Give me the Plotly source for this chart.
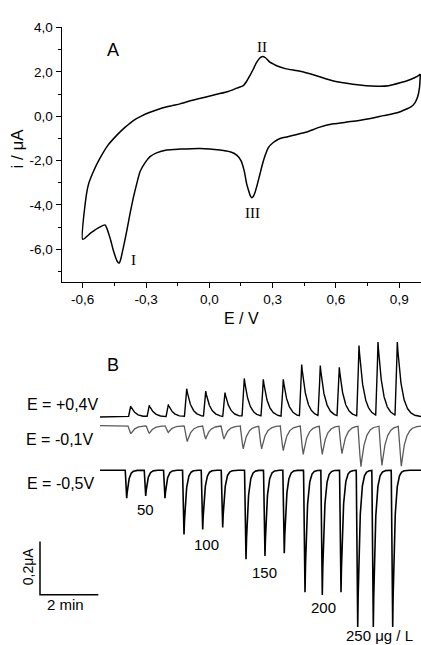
import numpy as np
import plotly.graph_objects as go

W, H = 421, 645

# ---------------- Panel A : cyclic voltammogram ----------------
E_FWD = [-0.600, -0.589, -0.573, -0.545, -0.518, -0.480, -0.439, -0.400, -0.360, -0.320,
         -0.281, -0.230, -0.180, -0.139, -0.080, -0.020, 0.035, 0.090, 0.130, 0.161,
         0.177, 0.193, 0.208, 0.222, 0.238, 0.252, 0.266, 0.285, 0.303, 0.319,
         0.360, 0.430, 0.500, 0.588, 0.680, 0.793, 0.850, 0.904, 0.950, 0.985, 1.000]
I_FWD = [-5.55, -4.00, -3.08, -2.40, -1.89, -1.30, -0.86, -0.50, -0.19, 0.02,
         0.18, 0.35, 0.47, 0.56, 0.72, 0.86, 0.99, 1.12, 1.27, 1.38,
         1.58, 1.85, 2.12, 2.40, 2.62, 2.70, 2.64, 2.45, 2.36, 2.28,
         2.15, 2.03, 1.85, 1.59, 1.45, 1.36, 1.38, 1.51, 1.65, 1.80, 1.90]

E_REV = [1.000, 0.996, 0.988, 0.975, 0.955, 0.935, 0.890, 0.825, 0.750, 0.670,
         0.588, 0.520, 0.462, 0.410, 0.367, 0.335, 0.303, 0.279, 0.265, 0.252,
         0.240, 0.228, 0.216, 0.208, 0.201, 0.194, 0.186, 0.177, 0.165, 0.150,
         0.130, 0.098, 0.050, -0.044, -0.139, -0.202, -0.250, -0.281, -0.305, -0.328,
         -0.345, -0.360, -0.376, -0.391, -0.407, -0.420, -0.427, -0.436, -0.455, -0.470,
         -0.494, -0.520, -0.560, -0.600]
I_REV = [1.90, 1.30, 0.90, 0.62, 0.42, 0.33, 0.16, 0.03, -0.12, -0.24,
         -0.34, -0.50, -0.71, -0.83, -0.93, -1.00, -1.18, -1.42, -1.75, -2.15,
         -2.60, -3.05, -3.45, -3.62, -3.67, -3.58, -3.35, -3.05, -2.45, -2.00,
         -1.75, -1.60, -1.52, -1.45, -1.48, -1.52, -1.65, -1.82, -2.10, -2.49,
         -3.08, -3.67, -4.40, -5.16, -5.90, -6.45, -6.62, -6.55, -6.04, -5.50,
         -4.90, -5.00, -5.25, -5.55]

X_TICKS = [-0.6, -0.3, 0.0, 0.3, 0.6, 0.9]
X_TICK_LABELS = ["-0,6", "-0,3", "0,0", "0,3", "0,6", "0,9"]
Y_TICKS = [4, 2, 0, -2, -4, -6]
Y_TICK_LABELS = ["4,0", "2,0", "0,0", "-2,0", "-4,0", "-6,0"]

# ---------------- Panel B : amperometric responses ----------------
CONC_LABELS = ["50", "100", "150", "200", "250 μg / L"]
# E = +0,4 V  (oxidation peaks): peak times (min) and heights (μA)
T_POS = [1.053, 1.691, 2.343, 2.974, 3.626, 4.288, 4.950, 5.602, 6.288, 6.919,
         7.557, 8.209, 8.885, 9.537, 10.199]
A_POS = [0.041, 0.043, 0.046, 0.105, 0.095, 0.090, 0.143, 0.139, 0.139, 0.194,
         0.189, 0.183, 0.265, 0.276, 0.276]
# E = -0,1 V (reduction dips)
T_MID = [1.063, 1.691, 2.343, 2.995, 3.626, 4.254, 4.916, 5.547, 6.288, 6.974,
         7.626, 8.302, 8.954, 9.674, 10.336]
A_MID = [0.030, 0.029, 0.025, 0.059, 0.049, 0.049, 0.086, 0.086, 0.093, 0.107,
         0.106, 0.104, 0.152, 0.148, 0.150]
# E = -0,5 V (reduction spikes)
T_NEG = [0.916, 1.568, 2.230, 2.882, 3.523, 4.209, 5.009, 5.660, 6.322, 7.033,
         7.626, 8.268, 8.841, 9.376, 10.041]
A_NEG = [0.105, 0.096, 0.105, 0.241, 0.222, 0.214, 0.333, 0.321, 0.311, 0.457,
         0.467, 0.457, 0.587, 0.587, 0.587]

SCALE_T = 2.0    # min
SCALE_I = 0.2    # μA

# ---- layout constants (panel B drawing frame) ----
PX_PER_MIN = 29.15
PX_PER_UA = 270.0
T0_PX = 100.0
OFF_POS = (H - 414.5) / PX_PER_UA
OFF_MID = (H - 423.3) / PX_PER_UA
OFF_NEG = (H - 468.3) / PX_PER_UA
T_END = (W - T0_PX) / PX_PER_MIN


def P(x, y):
    return x / W, 1 - y / H


def transient(t, times, amps, rise, tau, p):
    y = np.zeros_like(t)
    for tp, a in zip(times, amps):
        s = tp - rise
        m1 = (t >= s) & (t < tp)
        y[m1] += a * ((t[m1] - s) / rise) ** p
        m2 = t >= tp
        y[m2] += a * np.exp(-(t[m2] - tp) / tau)
    return y


def grid(times):
    g = np.arange(0, T_END + 0.004, 0.004)
    return np.unique(np.concatenate([g, np.array(times)]))


fig = go.Figure()

# CV curve
fig.add_trace(go.Scatter(x=E_FWD + E_REV, y=I_FWD + I_REV, mode="lines",
                         line=dict(color="black", width=1.5, shape="spline", smoothing=0.6),
                         xaxis="x", yaxis="y", hoverinfo="skip"))

# amperometric traces
tp = grid(T_POS)
fig.add_trace(go.Scatter(x=tp, y=OFF_POS + transient(tp, T_POS, A_POS, 0.08, 0.16, 1.2),
                         mode="lines", line=dict(color="black", width=1.4),
                         xaxis="x2", yaxis="y2", hoverinfo="skip"))
tm = grid(T_MID)
fig.add_trace(go.Scatter(x=tm, y=OFF_MID - transient(tm, T_MID, A_MID, 0.10, 0.14, 0.7),
                         mode="lines", line=dict(color="#5a5a5a", width=1.3),
                         xaxis="x2", yaxis="y2", hoverinfo="skip"))
tn = grid(T_NEG)
fig.add_trace(go.Scatter(x=tn, y=OFF_NEG - transient(tn, T_NEG, A_NEG, 0.05, 0.07, 1.0),
                         mode="lines", line=dict(color="black", width=1.6),
                         xaxis="x2", yaxis="y2", hoverinfo="skip"))

# scale bar
sb_t = (40 - T0_PX) / PX_PER_MIN
sb_i = (H - 594.3) / PX_PER_UA
fig.add_trace(go.Scatter(x=[sb_t, sb_t, sb_t + SCALE_T], y=[sb_i + SCALE_I, sb_i, sb_i],
                         mode="lines", line=dict(color="black", width=1.5),
                         xaxis="x2", yaxis="y2", hoverinfo="skip"))

x0, _ = P(61.7, 0)
_, yb = P(0, 277.7)
_, yt = P(0, 20.7)
sans = "Liberation Sans, Arial, sans-serif"
serif = "Liberation Serif, Times New Roman, serif"

fig.update_layout(
    width=W, height=H, margin=dict(l=0, r=0, t=0, b=0),
    paper_bgcolor="white", plot_bgcolor="rgba(0,0,0,0)", showlegend=False,
    font=dict(family=sans, color="black", size=13),
    xaxis=dict(domain=[x0, 1.0], range=[-0.6995, 1.003], anchor="y",
               showline=True, linecolor="black", linewidth=1.3, showgrid=False, zeroline=False,
               ticks="outside", ticklen=5, tickwidth=1.2, tickcolor="black",
               tickvals=X_TICKS, ticktext=X_TICK_LABELS, tickfont=dict(size=13.5),
               minor=dict(ticks="outside", ticklen=3, tickwidth=1.2, tickcolor="black",
                          dtick=0.15, tick0=0, showgrid=False)),
    yaxis=dict(domain=[yb, yt], range=[-7.458, 4.005], anchor="x",
               showline=True, linecolor="black", linewidth=1.3, showgrid=False, zeroline=False,
               ticks="outside", ticklen=5, tickwidth=1.2, tickcolor="black",
               tickvals=Y_TICKS, ticktext=Y_TICK_LABELS, tickfont=dict(size=13.5),
               minor=dict(ticks="outside", ticklen=3, tickwidth=1.2, tickcolor="black",
                          dtick=1, tick0=0, showgrid=False)),
    xaxis2=dict(domain=[0, 1], range=[-T0_PX / PX_PER_MIN, T_END], anchor="y2", visible=False),
    yaxis2=dict(domain=[0, 1], range=[0, H / PX_PER_UA], anchor="x2", visible=False),
)

ann = []


def add(text, x, y, size, family=sans, angle=0, xanchor="center"):
    px_, py_ = P(x, y)
    ann.append(dict(text=text, x=px_, y=py_, xref="paper", yref="paper", showarrow=False,
                    xanchor=xanchor, yanchor="middle", textangle=angle, borderpad=0,
                    font=dict(size=size, family=family, color="black")))


add("A", 113, 43, 18)
add("II", 262, 40, 15, serif)
add("III", 252, 208, 15, serif)
add("I", 133, 256, 15, serif)
add("E / V", 241, 315, 16)
add("i / μA", 17, 143, 17, angle=-90)
add("B", 113, 362, 18)
add("E = +0,4V", 25.5, 401.7, 16, xanchor="left")
add("E = -0,1V", 25, 437, 16, xanchor="left")
add("E = -0,5V", 25.5, 481.7, 16, xanchor="left")
for lab, (cx, cy) in zip(CONC_LABELS, [(145.7, 508.3), (206.7, 543.3), (264.3, 571.7),
                                       (323.3, 606.7), (379, 635)]):
    add(lab, cx, cy, 15)
add("0,2μA", 28.3, 565, 14, angle=-90)
add("2 min", 65, 604, 15)

fig.update_layout(annotations=ann)
fig.write_html("out.html", config={"displayModeBar": False},
               post_script="document.body.style.margin='0';document.body.style.padding='0';"
                           "document.documentElement.style.overflow='hidden';")
